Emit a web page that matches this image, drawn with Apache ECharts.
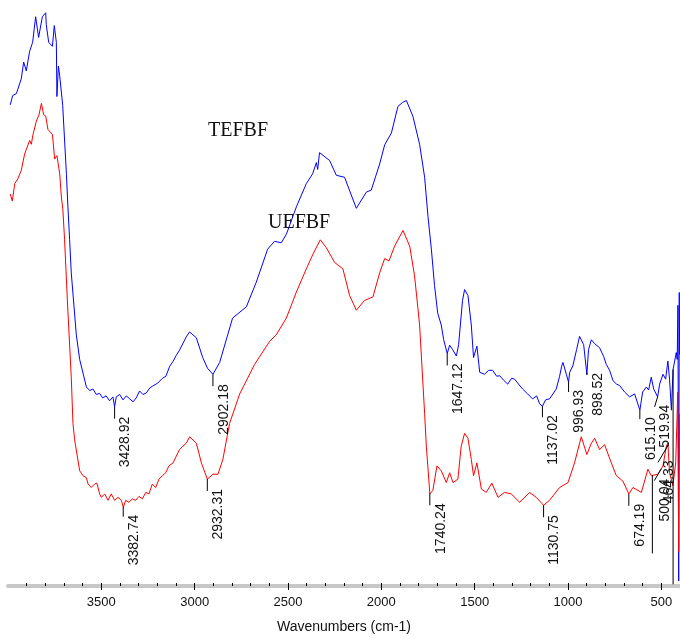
<!DOCTYPE html>
<html>
<head>
<meta charset="utf-8">
<script src="https://cdn.jsdelivr.net/npm/echarts@6/dist/echarts.min.js"></script>
<style>
html,body{margin:0;padding:0;background:#fff;}
#chart{width:680px;height:639px;}
</style>
</head>
<body>
<div id="chart"></div>
<script>
// ---- data ----
const wnBlue = [3988,3975,3955,3929,3916,3902,3884,3868,3852,3836,3816,3798,3795,3782,3762,3752,3741,3738,3730,3723,3707,3687,3679,3670,3661,3634,3616,3580,3562,3545,3527,3509,3493,3474,3456,3438,3429,3420,3402,3384,3366,3348,3330,3313,3295,3277,3259,3241,3225,3198,3172,3154,3134,3116,3099,3081,3045,3027,2991,2957,2931,2902,2866,2823,2797,2723,2670,2609,2572,2536,2509,2455,2402,2368,2348,2341,2331,2277,2241,2197,2134,2080,2054,2009,1982,1946,1911,1886,1866,1831,1795,1768,1750,1732,1715,1698,1679,1666,1647,1634,1618,1598,1586,1572,1565,1554,1536,1518,1506,1488,1473,1447,1425,1404,1382,1366,1345,1323,1302,1286,1265,1243,1216,1190,1168,1152,1137,1120,1099,1063,1045,1034,1027,1009,997,991,974,954,938,916,899,890,875,857,831,809,795,777,759,740,723,697,670,643,615,600,580,568,554,541,520,509,491,477,465,456,446,437,420,415,411,407,404,402];
const tBlue  = [97.7,99.6,100.0,103.0,106.4,104.6,108.6,110.4,115.6,111.4,115.6,116.4,114.0,110.4,109.6,113.8,110.4,99.4,105.6,103.6,97.6,83.6,77.0,70.4,63.6,51.0,46.0,40.4,39.7,40.0,38.9,39.1,38.2,38.6,37.6,38.4,36.4,38.4,38.9,37.8,38.6,38.0,37.4,38.2,39.6,38.9,39.2,40.2,40.6,41.2,42.2,42.6,44.6,45.6,46.8,47.9,50.6,51.6,50.4,46.4,44.2,43.0,45.4,51.0,54.4,56.7,61.7,68.4,70.0,69.7,71.4,77.0,81.7,83.7,86.0,84.6,88.0,86.4,83.4,83.0,76.7,80.0,80.4,85.7,89.6,92.0,97.4,98.2,98.6,95.4,89.7,83.0,75.0,68.4,61.0,55.4,53.0,50.0,47.2,48.9,48.0,46.7,49.0,55.0,58.0,60.2,59.0,53.0,46.4,48.7,43.4,43.0,43.8,43.8,42.6,42.7,41.8,41.0,42.2,42.0,41.0,40.0,39.0,38.0,38.6,37.0,36.5,37.8,38.0,40.0,42.6,44.6,45.4,43.0,41.4,43.4,44.7,48.0,50.7,49.0,43.0,48.0,50.0,49.2,48.4,46.6,45.0,43.8,41.7,41.0,40.7,39.4,38.4,39.0,35.7,39.4,40.4,39.8,42.4,40.0,38.4,41.0,43.0,42.0,45.7,42.0,35.7,44.0,47.4,46.0,57.0,1.0,59.6,47.0];

const wnRed = [3988,3977,3964,3947,3929,3911,3884,3875,3866,3848,3834,3821,3809,3798,3786,3762,3750,3738,3723,3714,3706,3697,3679,3661,3652,3643,3616,3598,3580,3571,3554,3536,3524,3509,3500,3482,3464,3447,3429,3411,3393,3382,3370,3352,3334,3316,3298,3280,3262,3245,3227,3209,3191,3173,3155,3138,3116,3098,3081,3063,3045,3027,2991,2964,2932,2902,2875,2849,2813,2759,2679,2598,2563,2509,2455,2402,2366,2327,2295,2250,2206,2170,2134,2090,2045,2009,1982,1959,1929,1884,1848,1822,1804,1795,1768,1759,1740,1724,1702,1679,1652,1634,1616,1590,1572,1554,1536,1518,1506,1488,1464,1438,1408,1375,1340,1304,1259,1206,1170,1131,1099,1045,1000,965,929,899,875,857,831,804,768,741,706,674,652,607,572,554,518,491,473,465,456,438,423,412,407,402];
const tRed  = [79.6,78.2,81.7,82.7,84.4,87.7,90.5,89.7,91.7,94.4,95.7,98.0,95.7,95.4,92.7,91.7,86.7,87.4,83.7,79.0,76.4,70.4,55.7,42.4,33.0,29.7,23.4,22.4,22.0,20.7,20.0,20.7,20.9,18.7,18.0,18.7,17.4,18.7,17.4,18.0,17.4,16.0,17.4,17.0,17.7,17.4,18.2,17.7,19.0,18.7,20.7,20.0,21.7,22.4,23.0,24.4,25.0,26.4,27.7,28.4,29.0,30.3,29.0,25.0,21.7,22.7,22.7,25.7,33.0,39.0,45.0,49.7,51.0,54.4,59.7,64.4,67.4,70.3,68.7,65.7,64.4,59.0,56.0,58.0,58.7,63.6,66.5,66.0,69.0,72.2,69.0,63.0,56.4,53.0,35.0,28.4,18.7,19.4,24.4,23.4,21.0,23.0,21.0,21.7,28.4,31.0,30.0,25.7,22.4,25.0,19.7,19.0,20.9,18.0,19.0,18.7,17.0,19.0,18.0,16.4,17.4,20.0,21.0,25.0,30.3,26.7,29.0,30.0,27.7,28.7,25.0,22.4,21.3,18.7,20.0,19.0,23.7,22.4,22.7,24.4,28.4,29.0,23.0,20.4,25.0,39.4,7.0,35.0];

const seriesNames = ['TEFBF','UEFBF'];
const xTickLabels = [500,1000,1500,2000,2500,3000,3500];
// peak positions (cm-1) and their printed labels; series 0 = TEFBF (blue), 1 = UEFBF (red)
const peakPos    = [3428.92,2902.18,1647.12,1137.02,996.93,898.52,615.10,519.94, 3382.74,2932.31,1740.24,1130.75,674.19,548,500.04,464.33,437];
const peakLabel  = ['3428.92','2902.18','1647.12','1137.02','996.93','898.52','615.10','519.94', '3382.74','2932.31','1740.24','1130.75','674.19','','500.04','464.33',''];
const peakSeries = [0,0,0,0,0,0,0,0, 1,1,1,1,1,1,1,1,0];

// ---- layout (pixels): leader length and horizontal shift of the label ----
const leadPx = [12,12,12,11,10,2,9,10, 10,12,12,12,12,78,12,17,215];
const shiftPx = [0,0,0,0,0,0,0,-3, 0,0,0,0,0,0,-7,-10,0];

function interp(ws, ts, w){
  for (let i=0;i<ws.length-1;i++){
    const a=ws[i], b=ws[i+1];
    if ((w<=a && w>=b) || (w>=a && w<=b)){
      const f = (a===b)?0:(w-a)/(b-a);
      return ts[i] + f*(ts[i+1]-ts[i]);
    }
  }
  return ts[ts.length-1];
}
const annData = peakPos.map((w,i)=>{
  const s = peakSeries[i];
  const v = s===0 ? interp(wnBlue,tBlue,w) : interp(wnRed,tRed,w);
  return [w, v, i];
});

const minor = [];
for (let v=500; v<=3900; v+=100) minor.push(v);

const chart = echarts.init(document.getElementById('chart'), null, {renderer:'canvas'});
const FONT = '"Liberation Sans", Arial, sans-serif';
chart.setOption({
  animation:false,
  backgroundColor:'#ffffff',
  grid:{left:8,right:0,top:0,bottom:44},
  xAxis:[{
    type:'value', min:400, max:4000, inverse:true,
    axisLine:{show:true, lineStyle:{color:'#c8c8c8', width:4}},
    axisTick:{show:true, inside:false, length:4, customValues:xTickLabels, lineStyle:{color:'#000', width:1}},
    axisLabel:{show:true, customValues:xTickLabels, margin:10, fontSize:13, color:'#111', fontFamily:FONT,
               formatter:function(v){return String(v);}},
    splitLine:{show:false},
    name:'Wavenumbers (cm-1)', nameLocation:'middle', nameGap:34,
    nameTextStyle:{fontSize:14, color:'#111', fontFamily:FONT}
  },{
    type:'value', min:400, max:4000, inverse:true, position:'bottom',
    axisLine:{show:false},
    axisTick:{show:true, inside:true, length:3, customValues:minor, lineStyle:{color:'#000', width:1}},
    axisLabel:{show:false}, splitLine:{show:false}
  }],
  yAxis:{type:'value', min:0, max:119, show:false},
  series:[
    {name:seriesNames[0], type:'line', showSymbol:false, symbol:'none', data:wnBlue.map((w,i)=>[w,tBlue[i]]),
     lineStyle:{color:'#0000ff', width:1}, z:3},
    {name:seriesNames[1], type:'line', showSymbol:false, symbol:'none', data:wnRed.map((w,i)=>[w,tRed[i]]),
     lineStyle:{color:'#ff0000', width:1}, z:3},
    {type:'custom', clip:false, z:4, data:annData,
     renderItem:function(params, api){
       const d = annData[params.dataIndex];
       const k = d[2];
       const p = api.coord([d[0], d[1]]);
       const ex = p[0] + shiftPx[k], ey = p[1] + leadPx[k];
       const children = [
         {type:'line', shape:{x1:p[0],y1:p[1],x2:ex,y2:ey}, style:{stroke:'#000', lineWidth:1}}
       ];
       if (peakLabel[k]) {
         children.push({type:'text', x:ex+4, y:ey-2, rotation:Math.PI/2,
          style:{text:peakLabel[k], font:'14px '+FONT, fill:'#111', align:'right', verticalAlign:'top'}});
       }
       return {type:'group', children:children};
     }}
  ],
  graphic:[
    {type:'text', left:208, top:121, style:{text:seriesNames[0], font:'20px "Liberation Serif", "Times New Roman", serif', fill:'#111'}},
    {type:'text', left:268, top:213, style:{text:seriesNames[1], font:'20px "Liberation Serif", "Times New Roman", serif', fill:'#111'}}
  ]
});
</script>
</body>
</html>
